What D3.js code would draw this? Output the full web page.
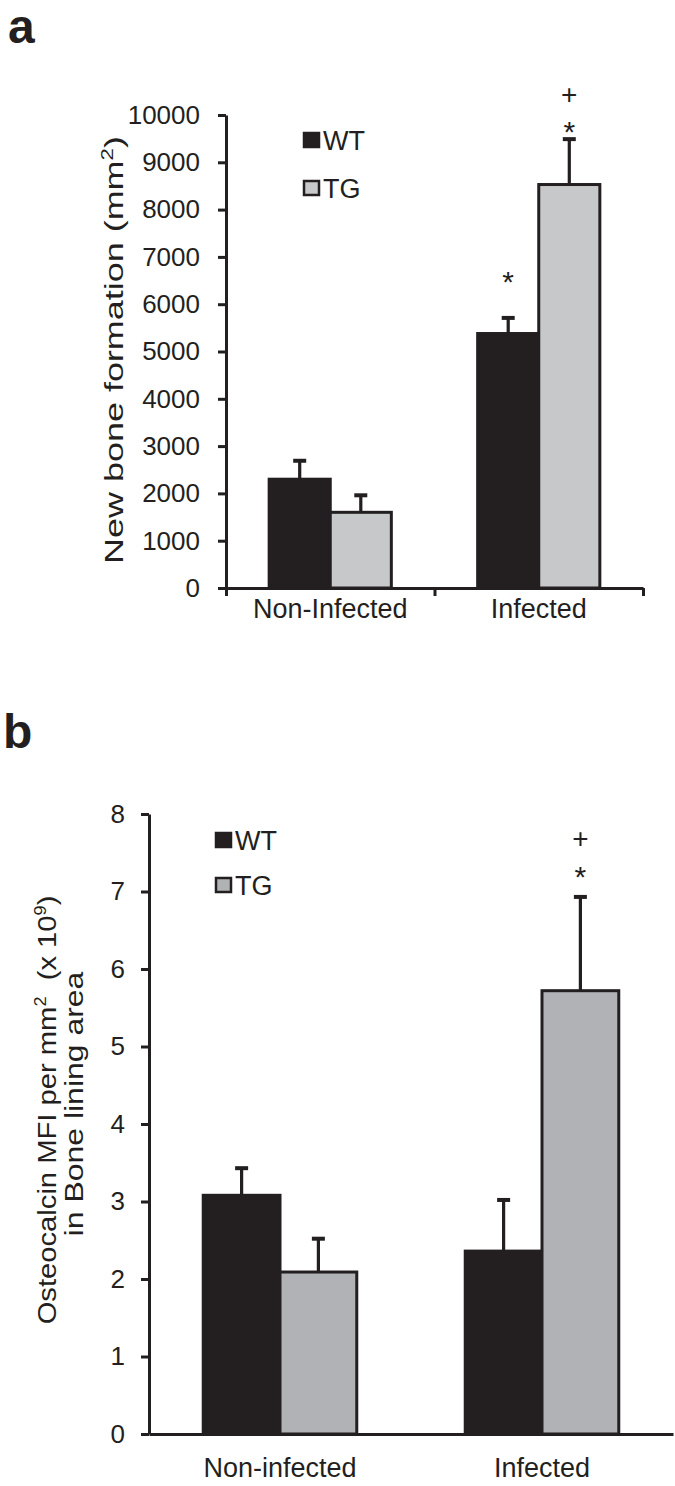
<!DOCTYPE html>
<html>
<head>
<meta charset="utf-8">
<script src="https://cdn.jsdelivr.net/npm/d3@7"></script>
<style>
  html, body { margin: 0; padding: 0; background: #ffffff; }
  svg { display: block; }
  text { font-family: "Liberation Sans", Arial, sans-serif; fill: #231f20; }
</style>
</head>
<body>
<svg id="chart" width="675" height="1486"></svg>
<script>
// ---------- data ----------
const seriesNames = ["WT", "TG"];

const categoriesA = ["Non-Infected", "Infected"];
const wtA = [2300, 5380];
const wtErrA = [390, 330];
const tgA = [1600, 8530];
const tgErrA = [360, 960];
const ticksA = [0, 1000, 2000, 3000, 4000, 5000, 6000, 7000, 8000, 9000, 10000];

const categoriesB = ["Non-infected", "Infected"];
const wtB = [3.08, 2.36];
const wtErrB = [0.35, 0.66];
const tgB = [2.09, 5.72];
const tgErrB = [0.43, 1.21];
const ticksB = [0, 1, 2, 3, 4, 5, 6, 7, 8];

// significance marks: [category, series, marks (bottom to top)]
const marksA = [["Infected", "WT", ["*"]], ["Infected", "TG", ["*", "+"]]];
const marksB = [["Infected", "TG", ["*", "+"]]];

// ---------- drawing ----------
const INK = "#231f20";
const FONT = '"Liberation Sans", Arial, sans-serif';
const svg = d3.select("#chart");

function stretchedRotated(g, x, y, parts, target, size) {
  const t = g.append("text")
    .attr("text-anchor", "middle")
    .style("font-size", size + "px");
  let shift = 0;
  parts.forEach(p => {
    const ts = t.append("tspan").text(p.t);
    if (p.sup) {
      ts.attr("dy", -size * 0.38 - shift).style("font-size", (size * 0.62) + "px");
      shift = -size * 0.38;
    } else {
      if (shift !== 0) ts.attr("dy", -shift);
      shift = 0;
    }
  });
  const len = t.node().getComputedTextLength();
  t.attr("transform", `translate(${x},${y}) rotate(-90) scale(${target / len},1)`);
  return t;
}

function panel(cfg) {
  const g = svg.append("g");
  const y = d3.scaleLinear().domain(cfg.domain).range([cfg.y0, cfg.y1]);
  const x = d3.scaleBand().domain(cfg.categories).range([cfg.x0, cfg.x1]);
  const bw = x.bandwidth() * 0.293;
  const data = cfg.categories.flatMap((c, i) => [
    { c, s: "WT", v: cfg.wt[i], e: cfg.wtErr[i] },
    { c, s: "TG", v: cfg.tg[i], e: cfg.tgErr[i] }
  ]);
  const bx = d => x(d.c) + x.bandwidth() / 2 + (d.s === "WT" ? -bw : 0);
  const fill = d => d.s === "WT" ? INK : cfg.tgFill;

  // error bars
  const eb = g.append("g");
  eb.selectAll("line.stem").data(data).join("line")
    .attr("x1", d => bx(d) + bw / 2).attr("x2", d => bx(d) + bw / 2)
    .attr("y1", d => y(d.v)).attr("y2", d => y(d.v + d.e))
    .attr("stroke", INK).attr("stroke-width", 3.2);
  eb.selectAll("line.cap").data(data).join("line")
    .attr("x1", d => bx(d) + bw / 2 - 6.5).attr("x2", d => bx(d) + bw / 2 + 6.5)
    .attr("y1", d => y(d.v + d.e)).attr("y2", d => y(d.v + d.e))
    .attr("stroke", INK).attr("stroke-width", 4);

  // bars
  g.append("g").selectAll("rect").data(data).join("rect")
    .attr("x", d => bx(d)).attr("width", bw)
    .attr("y", d => y(d.v)).attr("height", d => y(0) - y(d.v))
    .attr("fill", fill).attr("stroke", INK).attr("stroke-width", 3);

  // y axis
  const ya = g.append("g").attr("transform", `translate(${cfg.x0},0)`)
    .call(d3.axisLeft(y).tickValues(cfg.ticks).tickFormat(d3.format("d"))
      .tickSize(8).tickSizeOuter(0).tickPadding(cfg.tickPad));
  ya.select(".domain").attr("stroke", INK).attr("stroke-width", 3);
  ya.selectAll(".tick line").attr("stroke", INK).attr("stroke-width", 3);
  ya.selectAll(".tick text").style("font-family", FONT).style("font-size", "26px").attr("fill", INK);

  // x axis (line + optional category boundary ticks)
  const n = cfg.categories.length;
  const xb = d3.scaleLinear().domain([0, n]).range([cfg.x0, cfg.x1]);
  const xa = g.append("g").attr("transform", `translate(0,${cfg.y0})`)
    .call(d3.axisBottom(xb).tickValues(cfg.boundaryTicks ? d3.range(n + 1) : []).tickSize(8).tickSizeOuter(0));
  xa.selectAll(".tick text").remove();
  xa.select(".domain").attr("stroke", INK).attr("stroke-width", 3);
  xa.selectAll(".tick line").attr("stroke", INK).attr("stroke-width", 3);

  // category labels
  g.append("g").selectAll("text").data(cfg.categories).join("text")
    .attr("x", c => x(c) + x.bandwidth() / 2)
    .attr("y", cfg.y0 + cfg.labelOffset)
    .attr("text-anchor", "middle")
    .style("font-size", "27px")
    .text(c => c);

  // significance marks
  cfg.marks.forEach(([c, s, ms]) => {
    const d = data.find(dd => dd.c === c && dd.s === s);
    const cx = bx(d) + bw / 2;
    const top = y(d.v + d.e);
    ms.forEach((m, k) => {
      g.append("text")
        .attr("x", cx).attr("y", top + cfg.markOffsets(s)[k])
        .attr("text-anchor", "middle")
        .style("font-size", m === "*" ? "30px" : "28px")
        .text(m);
    });
  });

  // legend
  const lg = g.append("g");
  seriesNames.forEach((s, i) => {
    const ly = cfg.legY + i * cfg.legStep;
    lg.append("rect").attr("x", cfg.legX).attr("y", ly).attr("width", 15).attr("height", 14)
      .attr("fill", s === "WT" ? INK : cfg.tgFill).attr("stroke", INK).attr("stroke-width", 2.5);
    lg.append("text").attr("x", cfg.legX + 19).attr("y", ly + 17)
      .style("font-size", "27px").text(s);
  });

  // panel letter
  g.append("text").attr("x", cfg.letterX).attr("y", cfg.letterY)
    .style("font-size", "48px").style("font-weight", "bold").text(cfg.letter);

  return g;
}

const gA = panel({
  letter: "a", letterX: 8, letterY: 43,
  categories: categoriesA, wt: wtA, wtErr: wtErrA, tg: tgA, tgErr: tgErrA,
  ticks: ticksA, domain: [0, 10000], y0: 588, y1: 115, x0: 226, x1: 643,
  tickPad: 18, tgFill: "#c7c8ca", boundaryTicks: true, labelOffset: 30,
  marks: marksA,
  markOffsets: s => s === "WT" ? [-26] : [3, -35],
  legX: 304, legY: 133, legStep: 48
});
stretchedRotated(gA, 123, 350,
  [{ t: "New bone formation (mm" }, { t: "2", sup: true }, { t: ")" }], 428, 26);

const gB = panel({
  letter: "b", letterX: 3, letterY: 748,
  categories: categoriesB, wt: wtB, wtErr: wtErrB, tg: tgB, tgErr: tgErrB,
  ticks: ticksB, domain: [0, 8], y0: 1434, y1: 814, x0: 149, x1: 673,
  tickPad: 16, tgFill: "#b1b2b5", boundaryTicks: false, labelOffset: 43,
  marks: marksB,
  markOffsets: s => [-10, -49],
  legX: 216, legY: 833, legStep: 45
});
stretchedRotated(gB, 56, 1110,
  [{ t: "Osteocalcin MFI per mm" }, { t: "2", sup: true }, { t: "\u00A0 (x 10" }, { t: "9", sup: true }, { t: ")" }], 429, 26);
stretchedRotated(gB, 83, 1104,
  [{ t: "in Bone lining area" }], 265, 26);
</script>
</body>
</html>
